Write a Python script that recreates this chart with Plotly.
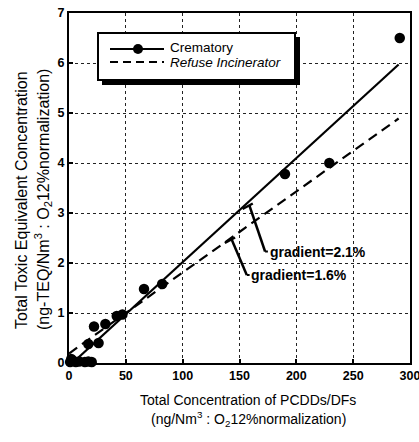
import plotly.graph_objects as go

# ---- data ----
crem_x = [1, 2, 4, 6, 9, 14, 17, 20, 17, 26, 22, 32, 42, 47, 66, 82, 190, 229, 291]
crem_y = [0.02, 0.08, 0.04, 0.02, 0.03, 0.02, 0.03, 0.02, 0.38, 0.40, 0.73, 0.78, 0.94, 0.97, 1.48, 1.58, 3.78, 4.00, 6.50]

crem_fit_x = [3, 290]
crem_fit_y = [0.0, 5.97]
refuse_fit_x = [0, 290]
refuse_fit_y = [0.19, 4.89]

x_ticks = [0, 50, 100, 150, 200, 250, 300]
y_ticks = [0, 1, 2, 3, 4, 5, 6, 7]

legend_names = ["Crematory", "<i>Refuse Incinerator</i>"]

x_title = ["Total Concentration of PCDDs/DFs",
           "(ng/Nm<sup>3</sup> : O<sub>2</sub>12%normalization)"]
y_title = ["Total Toxic Equivalent Concentration",
           "(ng-TEQ/Nm<sup>3</sup> : O<sub>2</sub>12%normalization)"]

# callouts: (line start on fit, line end, label)
callouts = [
    {"x0": 158.7, "y0": 3.15, "x1": 172.5, "y1": 2.23, "text": "gradient=2.1%"},
    {"x0": 143.1, "y0": 2.47, "x1": 156.4, "y1": 1.76, "text": "gradient=1.6%"},
]

W, H = 419, 442
ML, MR, MT, MB = 69, 9, 13, 79
PW, PH = W - ML - MR, H - MT - MB

def px(x):
    return (x - ML) / PW

def py(y):
    return (H - MB - y) / PH

FONT = "Liberation Sans, Arial, sans-serif"

fig = go.Figure()
fig.add_trace(go.Scatter(x=crem_fit_x, y=crem_fit_y, mode="lines",
                         line=dict(color="black", width=2.2), showlegend=False))
fig.add_trace(go.Scatter(x=refuse_fit_x, y=refuse_fit_y, mode="lines",
                         line=dict(color="black", width=2.2, dash="10px,6px"), showlegend=False))
fig.add_trace(go.Scatter(x=crem_x, y=crem_y, mode="markers", cliponaxis=False,
                         marker=dict(color="black", size=10.5), showlegend=False))

shapes = []
annotations = []

# callout lines
for c in callouts:
    shapes.append(dict(type="line", xref="x", yref="y", x0=c["x0"], y0=c["y0"],
                       x1=c["x1"], y1=c["y1"], line=dict(color="black", width=2.5)))
    shapes.append(dict(type="line", xref="x", yref="y",
                       x0=c["x0"] - 6, y0=c["y0"] - 0.07, x1=c["x0"] + 3, y1=c["y0"] + 0.04,
                       line=dict(color="black", width=2.5)))
    shapes.append(dict(type="line", xref="x", yref="y",
                       x0=c["x1"], y0=c["y1"], x1=c["x1"] + 2.5, y1=c["y1"],
                       line=dict(color="black", width=2)))
    annotations.append(dict(x=c["x1"] + 2.2, y=c["y1"], xref="x", yref="y", text=c["text"],
                            showarrow=False, xanchor="left", yanchor="middle",
                            font=dict(family=FONT, size=14, color="black", weight="bold")))

# manual legend box with shadow
shapes.append(dict(type="rect", xref="paper", yref="paper",
                   x0=px(102), x1=px(300), y0=py(85), y1=py(37),
                   fillcolor="black", line=dict(width=0), layer="above"))
shapes.append(dict(type="rect", xref="paper", yref="paper",
                   x0=px(98), x1=px(295), y0=py(80), y1=py(33),
                   fillcolor="white", line=dict(color="black", width=2), layer="above"))
shapes.append(dict(type="line", xref="paper", yref="paper",
                   x0=px(110), x1=px(164), y0=py(49), y1=py(49),
                   line=dict(color="black", width=2), layer="above"))
shapes.append(dict(type="circle", xref="paper", yref="paper", xsizemode="pixel", ysizemode="pixel",
                   xanchor=px(138), yanchor=py(49), x0=-5, x1=5, y0=-5, y1=5,
                   fillcolor="black", line=dict(width=0), layer="above"))
shapes.append(dict(type="line", xref="paper", yref="paper",
                   x0=px(110), x1=px(164), y0=py(62), y1=py(62),
                   line=dict(color="black", width=2, dash="8px,5px"), layer="above"))
for name, yy in zip(legend_names, [48, 62]):
    annotations.append(dict(x=px(168), y=py(yy), xref="paper", yref="paper", text=name,
                            showarrow=False, xanchor="left", yanchor="middle",
                            font=dict(family=FONT, size=13.5, color="black")))

# axis titles
for t, yy in zip(x_title, [400, 419]):
    annotations.append(dict(x=px(248), y=py(yy), xref="paper", yref="paper", text=t,
                            showarrow=False, xanchor="center", yanchor="middle",
                            font=dict(family=FONT, size=14, color="black")))
for t, xx in zip(y_title, [21, 43]):
    annotations.append(dict(x=px(xx), y=py(200), xref="paper", yref="paper", text=t,
                            showarrow=False, xanchor="center", yanchor="middle", textangle=-90,
                            font=dict(family=FONT, size=16, color="black")))

axis_common = dict(showgrid=True, gridcolor="#222", griddash="dot", gridwidth=1,
                   showline=True, linecolor="black", linewidth=2, mirror=True,
                   ticks="inside", ticklen=4, tickwidth=1.5, tickcolor="black",
                   tickfont=dict(family=FONT, size=12.5, color="black", weight="bold"),
                   zeroline=False, automargin=False, ticklabeloverflow="allow")

fig.update_layout(
    width=W, height=H,
    margin=dict(l=ML, r=MR, t=MT, b=MB, pad=0),
    paper_bgcolor="white", plot_bgcolor="white",
    shapes=shapes, annotations=annotations,
    font=dict(family=FONT, color="black"),
    xaxis=dict(range=[0, 300], tickvals=x_ticks, **axis_common),
    yaxis=dict(range=[0, 7], tickvals=y_ticks, **axis_common),
)

fig.write_html("out.html")
